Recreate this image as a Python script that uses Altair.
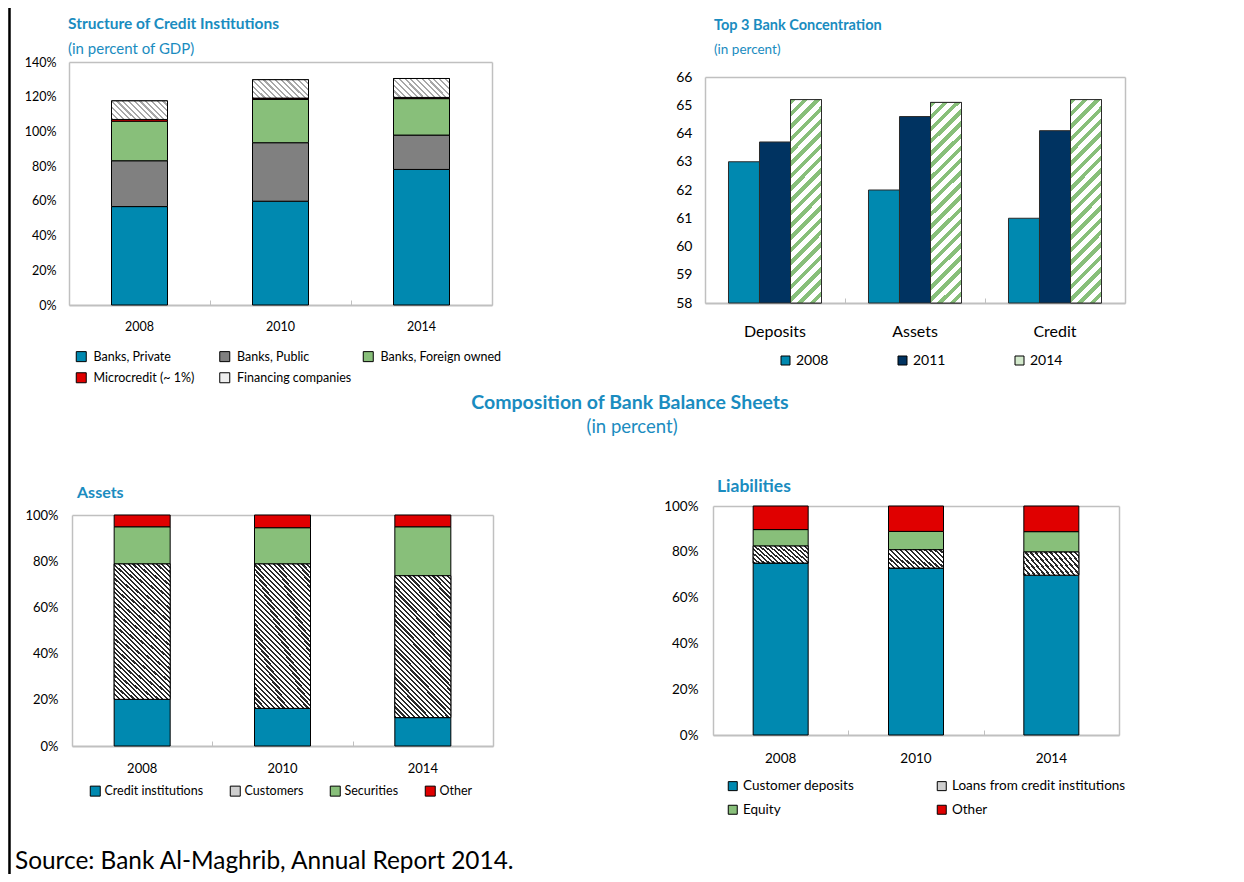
import altair as alt
import pandas as pd

FONT = "Lato"
TEAL = "#1a8cc0"
BLUE = "#0089b0"
GRAY = "#808080"
GREEN = "#88bf7a"
RED = "#e00000"
NAVY = "#003361"
FRAME = "#c0c0c0"

W, H = 1228, 866

# ---------------- data ----------------
# Structure of Credit Institutions (percent of GDP)
tl_years = ["2008", "2010", "2014"]
tl_series = ["Banks, Private", "Banks, Public", "Banks, Foreign owned",
             "Microcredit (~ 1%)", "Financing companies"]
tl_private = [56.7, 59.8, 78.1]
tl_public = [26.4, 33.7, 19.8]
tl_foreign = [22.8, 24.9, 21.0]
tl_micro = [1.0, 0.8, 0.7]
tl_financing = [10.7, 10.6, 10.9]
tl_ticks = [0, 20, 40, 60, 80, 100, 120, 140]

# Top 3 Bank Concentration (percent)
tr_categories = ["Deposits", "Assets", "Credit"]
tr_years = ["2008", "2011", "2014"]
tr_2008 = [63.0, 62.0, 61.0]
tr_2011 = [63.7, 64.6, 64.1]
tr_2014 = [65.2, 65.1, 65.2]
tr_ticks = [58, 59, 60, 61, 62, 63, 64, 65, 66]

# Assets composition (percent)
bl_years = ["2008", "2010", "2014"]
bl_series = ["Credit institutions", "Customers", "Securities", "Other"]
bl_credit = [20.2, 16.3, 12.3]
bl_customers = [58.6, 62.5, 61.4]
bl_securities = [16.1, 15.7, 21.2]
bl_other = [5.1, 5.5, 5.1]

# Liabilities composition (percent)
br_years = ["2008", "2010", "2014"]
br_series = ["Customer deposits", "Loans from credit institutions", "Equity", "Other"]
br_deposits = [75.1, 72.9, 69.8]
br_loans = [7.4, 8.0, 10.1]
br_equity = [7.2, 8.0, 8.9]
br_other = [10.3, 11.1, 11.2]
pct_ticks = [0, 20, 40, 60, 80, 100]


def long_df(years, series, arrays):
    rows = []
    for si, (s, arr) in enumerate(zip(series, arrays)):
        for y, v in zip(years, arr):
            rows.append({"year": y, "series": s, "value": v, "idx": si})
    return pd.DataFrame(rows)


df_tl = long_df(tl_years, tl_series, [tl_private, tl_public, tl_foreign, tl_micro, tl_financing])
df_bl = long_df(bl_years, bl_series, [bl_credit, bl_customers, bl_securities, bl_other])
df_br = long_df(br_years, br_series, [br_deposits, br_loans, br_equity, br_other])
df_tr = pd.DataFrame([
    {"cat": c, "year": yr, "value": v}
    for yr, arr in zip(tr_years, [tr_2008, tr_2011, tr_2014])
    for c, v in zip(tr_categories, arr)
])


# ---------------- hatch (striped gradient) ----------------
def hatch(w, h, period, frac, line, bg, forward):
    L = (w + h) / 2 ** 0.5
    n = max(1, round(L / period))
    lam = (w + h) / (w * w + h * h)
    if forward:
        x1, y1, x2, y2 = 0, 0, lam * w, lam * h
    else:
        x1, y1, x2, y2 = 0, 1, lam * w, 1 - lam * h
    stops = []
    for i in range(n):
        a = round(i / n, 5)
        b = round((i + frac) / n, 5)
        c = round((i + 1) / n, 5)
        stops += [{"offset": a, "color": line}, {"offset": b, "color": line},
                  {"offset": b, "color": bg}, {"offset": c, "color": bg}]
    return {"gradient": "linear", "x1": x1, "y1": y1, "x2": x2, "y2": y2, "stops": stops}


# ---------------- panel geometry (chart coords) ----------------
GEO = {
    "tl": dict(x0=61, x1=484, yb=297, yt=54),
    "tr": dict(x0=697, x1=1117, yb=295, yt=69),
    "bl": dict(x0=64, x1=485, yb=738, yt=507),
    "br": dict(x0=705, x1=1111, yb=727, yt=498),
}


def frame_layers(data, xenc_field, xscale, yfield, yscale, g):
    """Top/right frame lines and inner upward band ticks."""
    top_right = alt.Chart(data).mark_bar(opacity=0).encode(
        x=alt.X(xenc_field, scale=xscale,
                axis=alt.Axis(orient="top", offset=-g["yt"], labels=False, ticks=False,
                              domain=True, domainColor=FRAME, domainWidth=1.5, title=None, grid=False)),
        y=alt.Y(yfield, scale=yscale,
                axis=alt.Axis(orient="right", offset=g["x1"] - W, labels=False, ticks=False,
                              domain=True, domainColor=FRAME, domainWidth=1.5, title=None, grid=False)),
    )
    inner_ticks = alt.Chart(data).mark_bar(opacity=0).encode(
        x=alt.X(xenc_field, scale=xscale,
                axis=alt.Axis(orient="top", offset=-g["yb"], labels=False, ticks=True,
                              tickBand="extent", tickSize=5, tickColor=FRAME, tickWidth=1,
                              domain=False, title=None, grid=False)),
        y=alt.Y(yfield, scale=yscale, axis=None),
    )
    return [top_right, inner_ticks]


def stacked_panel(df, years, series, colors, g, ydom, yticks, bar_w, hatch_series, grad,
                  yfont, xfont, ypad, xpad, legend):
    xscale = alt.Scale(domain=years, range=[g["x0"], g["x1"]], paddingInner=0, paddingOuter=0)
    yscale = alt.Scale(domain=ydom, range=[g["yb"], g["yt"]], nice=False, zero=False)
    stacked = alt.Chart(df).transform_stack(
        stack="value", groupby=["year"], as_=["v0", "v1"],
        sort=[alt.SortField("idx", order="ascending")])
    base = stacked.mark_bar(width=bar_w, stroke="black", strokeWidth=1).encode(
        x=alt.X("year:N", scale=xscale,
                axis=alt.Axis(orient="bottom", offset=g["yb"] - H, title=None, labelAngle=0,
                              labelFontSize=xfont, labelPadding=xpad, labelColor="black",
                              ticks=False, domain=True, domainColor=FRAME, domainWidth=2, grid=False)),
        y=alt.Y("v1:Q", scale=yscale,
                axis=alt.Axis(orient="left", offset=-g["x0"], values=yticks,
                              labelExpr="datum.value + '%'", title=None, labelFontSize=yfont,
                              labelPadding=ypad, labelColor="black", ticks=False, domain=True,
                              domainColor=FRAME, domainWidth=1.5, grid=False)),
        y2="v0:Q",
        color=alt.Color("series:N", scale=alt.Scale(domain=series, range=colors), legend=legend),
    )
    over = stacked.transform_filter(
        alt.datum.series == hatch_series
    ).mark_bar(width=bar_w, stroke="black", strokeWidth=1, fill=grad).encode(
        x=alt.X("year:N", scale=xscale, axis=None),
        y=alt.Y("v1:Q", scale=yscale, axis=None),
        y2="v0:Q",
    )
    frames = frame_layers(df, "year:N", xscale, "value:Q", yscale, g)
    return [base, over] + frames


def legend(x, y, cols, size, font, loff, cpad, rpad, align):
    return alt.Legend(orient="none", legendX=x, legendY=y, direction="horizontal", columns=cols,
                      title=None, symbolType="square", symbolSize=size * size,
                      symbolStrokeColor="black", symbolStrokeWidth=1, labelFont=FONT,
                      labelFontSize=font, labelColor="black", labelOffset=loff, labelLimit=400,
                      columnPadding=cpad, rowPadding=rpad, gridAlign=align, padding=0)


layers = []

# ---- top-left ----
g = GEO["tl"]
h_fin = sum(tl_financing) / 3 / 140 * (g["yb"] - g["yt"])
layers += stacked_panel(
    df_tl, tl_years, tl_series, [BLUE, GRAY, GREEN, RED, "#eeeeee"], g, [0, 140], tl_ticks, 56,
    "Financing companies", hatch(56, h_fin, 4.0, 0.38, "#a8a8a8", "#ffffff", False),
    12.5, 12.5, 13, 15,
    legend(67, 342, 3, 10, 12.5, 6, 2.5, 6.5, "all"))

# ---- bottom-left ----
g = GEO["bl"]
h_cus = sum(bl_customers) / 3 / 100 * (g["yb"] - g["yt"])
layers += stacked_panel(
    df_bl, bl_years, bl_series, [BLUE, "#cfcfcf", GREEN, RED], g, [0, 100], pct_ticks, 56,
    "Customers", hatch(56, h_cus, 3.4, 0.45, "#2a2a2a", "#ffffff", False),
    13, 13, 14, 16,
    legend(81, 776.5, 4, 10, 12.5, 3, 24, 6, "each"))

# ---- bottom-right ----
g = GEO["br"]
h_loan = sum(br_loans) / 3 / 100 * (g["yb"] - g["yt"])
layers += stacked_panel(
    df_br, br_years, br_series, [BLUE, "#cfcfcf", GREEN, RED], g, [0, 100], pct_ticks, 55,
    "Loans from credit institutions", hatch(55, h_loan, 3.4, 0.45, "#2a2a2a", "#ffffff", False),
    13.5, 13.5, 15, 16,
    legend(718, 771, 2, 9, 13.5, 3.5, 80, 9, "each"))

# ---- top-right ----
g = GEO["tr"]
tr_x = alt.Scale(domain=tr_categories, range=[g["x0"], g["x1"]], paddingInner=0, paddingOuter=0)
tr_y = alt.Scale(domain=[58, 66], range=[g["yb"], g["yt"]], nice=False, zero=False)
tr_off = alt.Scale(domain=tr_years, paddingInner=0, paddingOuter=0.758)
tr_base = alt.Chart(df_tr).mark_bar(stroke="#2b2b2b", strokeWidth=1).encode(
    x=alt.X("cat:N", scale=tr_x,
            axis=alt.Axis(orient="bottom", offset=g["yb"] - H, title=None, labelAngle=0,
                          labelFontSize=16, labelPadding=20, labelColor="black", ticks=False,
                          domain=True, domainColor=FRAME, domainWidth=2, grid=False)),
    xOffset=alt.XOffset("year:N", scale=tr_off),
    y=alt.Y("value:Q", scale=tr_y,
            axis=alt.Axis(orient="left", offset=-g["x0"], values=tr_ticks, format="d", title=None,
                          labelFontSize=14, labelPadding=13, labelColor="black", ticks=False,
                          domain=True, domainColor=FRAME, domainWidth=1.5, grid=False)),
    y2=alt.datum(58),
    color=alt.Color("year:N", scale=alt.Scale(domain=tr_years, range=[BLUE, NAVY, "#d3e9cc"]),
                    legend=legend(770.5, 345.5, 3, 9, 14, 3.5, 67, 6, "all")),
)
h_14 = (sum(tr_2014) / 3 - 58) / 8 * (g["yb"] - g["yt"])
tr_over = alt.Chart(df_tr).transform_filter(alt.datum.year == "2014").mark_bar(
    stroke="#2b2b2b", strokeWidth=1,
    fill=hatch(31, h_14, 8.5, 0.45, GREEN, "#ffffff", True)).encode(
    x=alt.X("cat:N", scale=tr_x, axis=None),
    xOffset=alt.XOffset("year:N", scale=tr_off),
    y=alt.Y("value:Q", scale=tr_y, axis=None),
    y2=alt.datum(58),
)
layers += [tr_base, tr_over]
layers += frame_layers(df_tr, "cat:N", tr_x, "value:Q", tr_y, g)


# ---------------- texts ----------------
def txt(s, x, y, size, bold=False, color=TEAL, align="left"):
    return alt.Chart(pd.DataFrame({"t": [s]})).mark_text(
        text=s, font=FONT, fontSize=size, fontWeight="bold" if bold else "normal",
        color=color, align=align, baseline="middle").encode(x=alt.value(x), y=alt.value(y))


layers += [
    txt("Structure of Credit Institutions", 60, 16, 15.5, True),
    txt("(in percent of GDP)", 60, 41, 15),
    txt("Top 3 Bank Concentration", 706, 18, 14.5, True),
    txt("(in percent)", 706, 42, 13.5),
    txt("Composition of Bank Balance Sheets", 622, 395, 19.5, True, align="center"),
    txt("(in percent)", 624, 419, 18.5, align="center"),
    txt("Assets", 69, 485, 16, True),
    txt("Liabilities", 709, 479, 17.5, True),
    txt("Source: Bank Al-Maghrib, Annual Report 2014.", 7, 854, 24.4, color="black"),
]

border = alt.Chart(pd.DataFrame({"a": [0]})).mark_rule(color="black", strokeWidth=2.5).encode(
    x=alt.value(1.5), y=alt.value(0), y2=alt.value(H))
top_mask = alt.Chart(pd.DataFrame({"a": [0]})).mark_rule(color="white", strokeWidth=3).encode(
    x=alt.value(3), x2=alt.value(W), y=alt.value(0.5))
layers += [border, top_mask]

chart = alt.layer(*layers).resolve_scale(
    x="independent", y="independent", color="independent", xOffset="independent"
).resolve_axis(x="independent", y="independent").resolve_legend(color="independent").properties(
    width=W, height=H, autosize="none", padding=0, background="white"
).configure_view(stroke=None, strokeWidth=0).configure_axis(labelFont=FONT, grid=False).configure(font=FONT)

chart.save("out.html", embed_options={"renderer": "svg", "actions": False})
